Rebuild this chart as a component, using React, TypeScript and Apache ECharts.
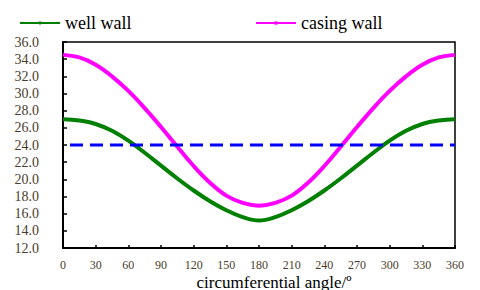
import React, { useEffect, useRef } from "react";
import * as echarts from "echarts";

const angles = [0, 15, 30, 45, 60, 75, 90, 105, 120, 135, 150, 165, 180, 195, 210, 225, 240, 255, 270, 285, 300, 315, 330, 345, 360];
const wellWall = [27.0, 26.85, 26.45, 25.65, 24.5, 23.1, 21.6, 20.1, 18.7, 17.45, 16.4, 15.6, 15.2, 15.6, 16.4, 17.45, 18.7, 20.1, 21.6, 23.1, 24.5, 25.65, 26.45, 26.85, 27.0];
const casingWall = [34.5, 34.2, 33.35, 32.0, 30.3, 28.3, 26.1, 23.8, 21.55, 19.6, 18.1, 17.25, 16.93, 17.25, 18.1, 19.6, 21.55, 23.8, 26.1, 28.3, 30.3, 32.0, 33.35, 34.2, 34.5];
const limitAngles = [0, 360];
const limitValues = [24, 24];
const xAxisTitle = "circumferential angle/º";

export default function App() {
  const ref = useRef<HTMLDivElement>(null);
  useEffect(() => {
    const chart = echarts.init(ref.current!, null, { renderer: "svg" });
    const labelColor = "#4a3c2c";
    const legendBase = {
      top: 9,
      itemWidth: 40,
      itemHeight: 4,
      itemGap: 4,
      lineStyle: { width: 2 },
      textStyle: { fontFamily: "Liberation Serif", fontSize: 18, color: "#000" },
    };
    chart.setOption({
      animation: false,
      backgroundColor: "#ffffff",
      legend: [
        { ...legendBase, data: ["well wall"], left: 14 },
        { ...legendBase, data: ["casing wall"], left: 250 },
      ],
      grid: {
        left: 63,
        right: 25,
        top: 42,
        bottom: 42,
        containLabel: false,
        outerBoundsMode: "none",
        show: true,
        borderColor: "#000",
        borderWidth: 1.5,
      },
      graphic: [
        {
          type: "text",
          x: 274,
          y: 282,
          style: {
            text: xAxisTitle,
            fontFamily: "Liberation Serif",
            fontSize: 17,
            fill: "#000",
            align: "center",
            verticalAlign: "middle",
          },
        },
      ],
      xAxis: {
        type: "value",
        min: 0,
        max: 360,
        interval: 30,
        axisLine: { lineStyle: { color: "#000", width: 2 } },
        axisTick: { inside: true, length: 3, lineStyle: { color: "#000", width: 1.5 } },
        axisLabel: { fontFamily: "Liberation Serif", fontSize: 12, color: labelColor, margin: 11 },
        splitLine: { show: false },
      },
      yAxis: {
        type: "value",
        min: 12,
        max: 36,
        interval: 2,
        axisLine: { show: true, lineStyle: { color: "#000", width: 2 } },
        axisTick: { show: true, inside: true, length: 4, lineStyle: { color: "#000", width: 1.5 } },
        axisLabel: {
          fontFamily: "Liberation Serif",
          fontSize: 14,
          color: labelColor,
          margin: 24,
          formatter: (v: number) => v.toFixed(1),
        },
        splitLine: { show: false },
      },
      series: [
        {
          name: "well wall",
          type: "line",
          data: angles.map((a, i) => [a, wellWall[i]]),
          smooth: 0.4,
          symbol: "circle",
          symbolSize: 4,
          showSymbol: false,
          itemStyle: { color: "#008000" },
          lineStyle: { color: "#008000", width: 4 },
        },
        {
          name: "casing wall",
          type: "line",
          data: angles.map((a, i) => [a, casingWall[i]]),
          smooth: 0.4,
          symbol: "rect",
          symbolSize: 4,
          showSymbol: false,
          itemStyle: { color: "#ff00ff" },
          lineStyle: { color: "#ff00ff", width: 4 },
        },
        {
          name: "limit",
          type: "line",
          data: limitAngles.map((a, i) => [a, limitValues[i]]),
          symbol: "none",
          lineStyle: { color: "#0000ff", width: 3, type: [13, 7], dashOffset: 13 },
        },
      ],
    });
    return () => chart.dispose();
  }, []);
  return <div ref={ref} style={{ width: 480, height: 290, position: "absolute", left: 0, top: 0 }} />;
}
